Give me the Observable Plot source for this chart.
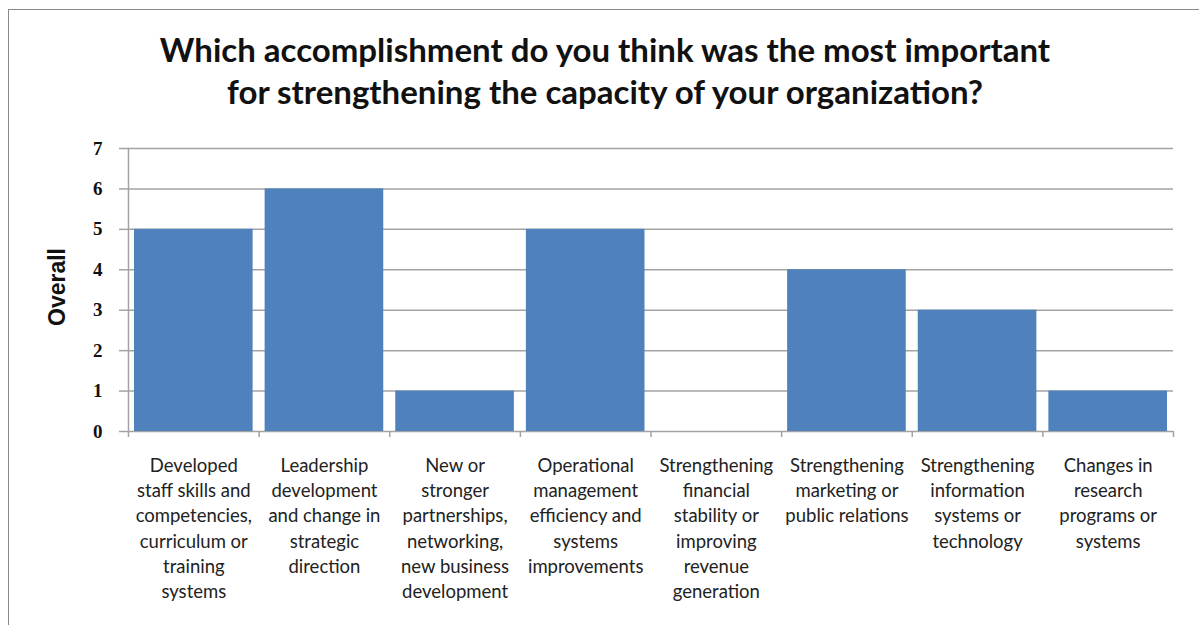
<!DOCTYPE html>
<html>
<head>
<meta charset="utf-8">
<script src="https://cdn.jsdelivr.net/npm/d3@7"></script>
<script src="https://cdn.jsdelivr.net/npm/@observablehq/plot@0.6"></script>
<style>
  html, body { margin: 0; padding: 0; background: #fff; overflow: hidden; }
  body { width: 1199px; height: 625px; position: relative; }
  #frame { position: absolute; left: 8px; top: 9px; width: 1300px; height: 800px;
           border: 1.5px solid #8a8a8a; box-sizing: border-box; pointer-events: none; }
  #title { margin: 28px 0 0 10px; width: 1190px; height: 85px; text-align: center;
           font-family: Lato, "Open Sans", sans-serif; font-weight: 700; font-size: 33px;
           line-height: 42px; color: #111; white-space: nowrap; }
  #chart svg { display: block; }
</style>
</head>
<body>
<div id="frame"></div>
<div id="title">Which accomplishment do you think was the most important<br>for strengthening the capacity of your organization?</div>
<div id="chart"></div>
<script>
const categories = [
  "Developed\nstaff skills and\ncompetencies,\ncurriculum or\ntraining\nsystems",
  "Leadership\ndevelopment\nand change in\nstrategic\ndirection",
  "New or\nstronger\npartnerships,\nnetworking,\nnew business\ndevelopment",
  "Operational\nmanagement\nefficiency and\nsystems\nimprovements",
  "Strengthening\nfinancial\nstability or\nimproving\nrevenue\ngeneration",
  "Strengthening\nmarketing or\npublic relations",
  "Strengthening\ninformation\nsystems or\ntechnology",
  "Changes in\nresearch\nprograms or\nsystems"
];
const values = [5, 6, 1, 5, 0, 4, 3, 1];
const yTicks = [0, 1, 2, 3, 4, 5, 6, 7];
const yLabel = "Overall";

const data = categories.map((c, i) => ({category: c, value: values[i], index: i}));
const boundaries = d3.range(0, categories.length + 1);
const gridColor = "#a3a3a3";

const chart = Plot.plot({
  width: 1199,
  height: 512,
  marginTop: 35,
  marginBottom: 194,
  marginLeft: 128,
  marginRight: 26,
  x: {type: "linear", domain: [0, categories.length]},
  y: {domain: [0, 7]},
  style: {background: "transparent"},
  marks: [
    Plot.gridY(yTicks, {stroke: gridColor, strokeOpacity: 1, strokeWidth: 1.5}),
    Plot.rectY(data, {
      x1: d => d.index, x2: d => d.index + 1, y1: 0, y2: "value",
      fill: "#4f81bd", insetLeft: 6, insetRight: 6
    }),
    Plot.ruleX([0], {stroke: gridColor, strokeWidth: 1.5}),
    Plot.axisY(yTicks, {
      tickSize: 9, tickPadding: 17, stroke: gridColor, strokeWidth: 1.5,
      tickFormat: d => String(d), label: null,
      fontFamily: "'Liberation Serif', 'DejaVu Serif', serif", fontSize: 19, fontWeight: "bold", fill: "#111"
    }),
    Plot.axisX(boundaries, {
      tickSize: 6, tickFormat: () => "", label: null, stroke: gridColor, strokeWidth: 1.5
    }),
    Plot.text(data, {
      x: d => d.index + 0.5, y: 0, text: "category",
      lineAnchor: "top", dy: 22, lineHeight: 1.37,
      fontFamily: "Lato, 'Open Sans', sans-serif", fontSize: 18.5, fill: "#222"
    }),
    Plot.text([yLabel], {
      frameAnchor: "left", textAnchor: "middle", dx: -71, dy: -3, rotate: -90, text: d => d,
      fontFamily: "'Liberation Sans', Arial, sans-serif", fontWeight: "bold", fontSize: 23, fill: "#111"
    })
  ]
});
document.getElementById("chart").appendChild(chart);
</script>
</body>
</html>
